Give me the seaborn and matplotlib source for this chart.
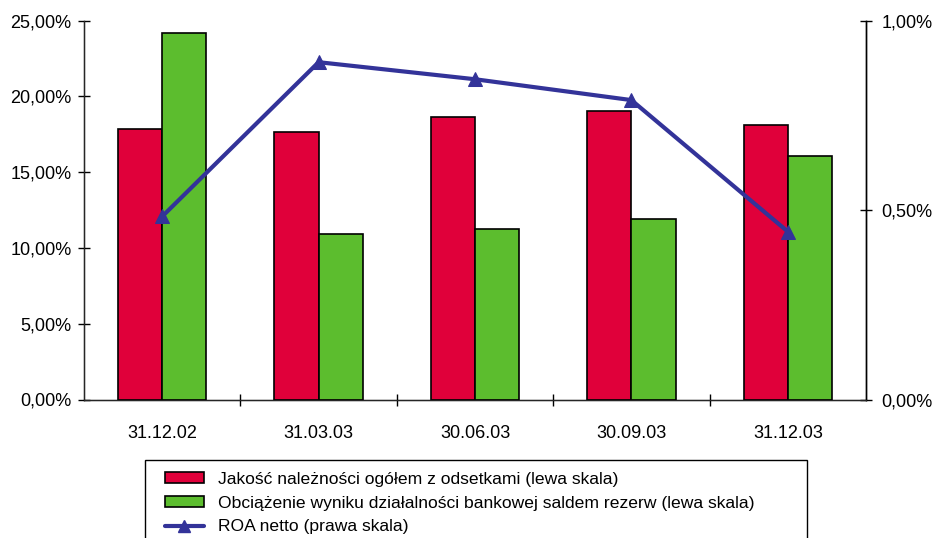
import numpy as np
import pandas as pd
import matplotlib
matplotlib.use("Agg")
import matplotlib.pyplot as plt
from matplotlib.patches import Patch, Rectangle
from matplotlib.lines import Line2D
from matplotlib.ticker import FixedLocator, FuncFormatter
import seaborn as sns

# Dates (quarter ends)
dates = ["31.12.02", "31.03.03", "30.06.03", "30.09.03", "31.12.03"]

# Left scale series (%)
jakosc = [17.85, 17.65, 18.65, 19.05, 18.10]
obciazenie = [24.17, 10.92, 11.25, 11.90, 16.08]

# Right scale series (%)
roa = [0.483, 0.890, 0.845, 0.790, 0.443]

series_names = [
    "Jakość należności ogółem z odsetkami (lewa skala)",
    "Obciążenie wyniku działalności bankowej saldem rezerw (lewa skala)",
    "ROA netto (prawa skala)",
]

left_ticks = [0, 5, 10, 15, 20, 25]
right_ticks = [0, 0.5, 1.0]

RED = "#E0003A"
GREEN = "#5CBD2E"
BLUE = "#333399"

sns.set_style("white")
plt.rcParams["font.family"] = ["Liberation Sans", "DejaVu Sans"]
plt.rcParams["text.color"] = "black"
plt.rcParams["xtick.color"] = "black"
plt.rcParams["ytick.color"] = "black"
plt.rcParams["xtick.labelcolor"] = "black"
plt.rcParams["ytick.labelcolor"] = "black"

df = pd.DataFrame({
    "data": dates * 2,
    "wartosc": jakosc + obciazenie,
    "seria": [series_names[0]] * len(dates) + [series_names[1]] * len(dates),
})

W, H = 935, 538
fig = plt.figure(figsize=(W / 100, H / 100), dpi=100)
ax = fig.add_axes([84 / W, 1 - 399.5 / H, (866 - 84) / W, (399.5 - 20.5) / H])

sns.barplot(data=df, x="data", y="wartosc", hue="seria",
            palette=[RED, GREEN], edgecolor="black", linewidth=1.2,
            width=0.565, saturation=1, ax=ax, legend=False)

pct = FuncFormatter(lambda v, p: f"{v:.2f}".replace(".", ",") + "%")

ax.set_xlim(-0.5, len(dates) - 0.5)
ax.set_ylim(0, 25)
ax.set_xlabel("")
ax.set_ylabel("")
ax.yaxis.set_major_locator(FixedLocator(left_ticks))
ax.yaxis.set_major_formatter(pct)
ax.tick_params(axis="y", direction="inout", length=8, width=1, labelsize=13, pad=5,
               left=True, colors="black")
ax.tick_params(axis="x", which="major", length=0, labelsize=13, pad=18, colors="black")
ax.xaxis.set_minor_locator(FixedLocator(np.arange(0.5, len(dates) - 0.5, 1)))
ax.tick_params(axis="x", which="minor", direction="inout", length=8, width=1,
               bottom=True, colors="black")

for side in ["left", "bottom", "right"]:
    ax.spines[side].set_visible(True)
    ax.spines[side].set_color("black")
    ax.spines[side].set_linewidth(1)
ax.spines["top"].set_visible(False)

ax2 = ax.twinx()
sns.lineplot(x=np.arange(len(dates)), y=roa, ax=ax2, color=BLUE, linewidth=3,
             marker="^", markersize=10, markeredgecolor=BLUE, markerfacecolor=BLUE)
ax2.set_ylim(0, 1.0)
ax2.set_ylabel("")
ax2.yaxis.set_major_locator(FixedLocator(right_ticks))
ax2.yaxis.set_major_formatter(pct)
ax2.tick_params(axis="y", direction="inout", length=8, width=1, labelsize=13, pad=7,
                right=True, colors="black")
ax2.spines["top"].set_visible(False)
ax2.spines["right"].set_color("black")
ax2.spines["right"].set_linewidth(1)

# Legend frame running past the lower edge of the figure
fig.add_artist(Rectangle((145 / W, -0.05), (807 - 145) / W, 0.05 + 1 - 460 / H,
                         transform=fig.transFigure, facecolor="white",
                         edgecolor="black", linewidth=1, zorder=1))

handles = [
    Patch(facecolor=RED, edgecolor="black", linewidth=1.2),
    Patch(facecolor=GREEN, edgecolor="black", linewidth=1.2),
    Line2D([0], [0], color=BLUE, linewidth=3, marker="^", markersize=8),
]
leg = fig.legend(handles, series_names, loc="upper left",
                 bbox_to_anchor=(165 / W, 1 - 472 / H),
                 frameon=False, fontsize=12.6,
                 handlelength=2.2, handleheight=0.6, handletextpad=0.85,
                 labelspacing=0.5, borderpad=0, borderaxespad=0)
for t in leg.get_texts():
    t.set_color("black")
leg.set_zorder(2)

fig.savefig("out.png", dpi=100)
